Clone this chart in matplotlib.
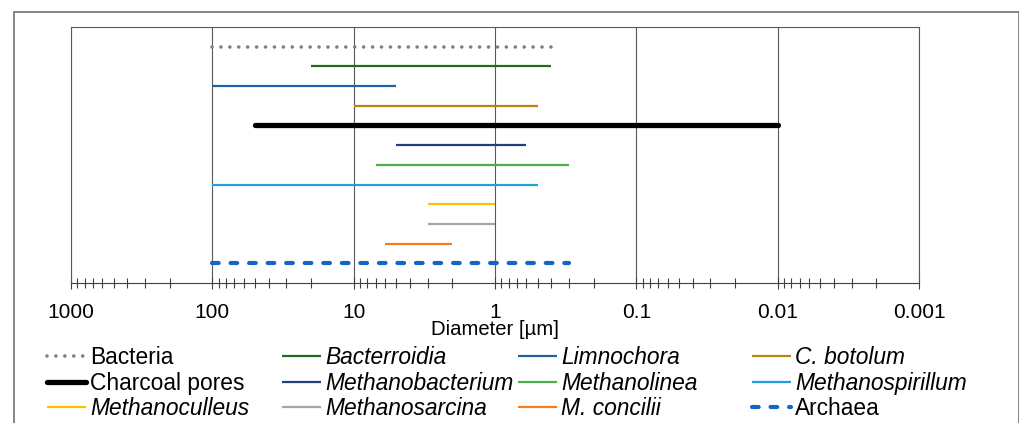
import matplotlib
matplotlib.use("Agg")
import matplotlib.pyplot as plt
from matplotlib.ticker import FixedLocator, LogLocator, NullFormatter
from matplotlib.patches import Rectangle

plt.rcParams['font.family'] = ['Liberation Sans', 'DejaVu Sans']

# ---- data ----
names = ["Bacteria", "Bacterroidia", "Limnochora", "C. botolum", "Charcoal pores",
         "Methanobacterium", "Methanolinea", "Methanospirillum", "Methanoculleus",
         "Methanosarcina", "M. concilii", "Archaea"]
start_um = [100, 20, 100, 10, 50, 5, 7, 100, 3, 3, 6, 100]
end_um = [0.4, 0.4, 5, 0.5, 0.01, 0.6, 0.3, 0.5, 1, 1, 2, 0.3]
italic = [False, True, True, True, False, True, True, True, True, True, True, False]
tick_values = [1000, 100, 10, 1, 0.1, 0.01, 0.001]
tick_labels = ["1000", "100", "10", "1", "0.1", "0.01", "0.001"]

colors = ["#7F7F7F", "#1F6B22", "#1F63A3", "#B8860B", "#000000", "#203F80",
          "#4CB04A", "#21A0E0", "#FFC000", "#A5A5A5", "#F57C20", "#1565C8"]

W, H = 1020, 423
fig = plt.figure(figsize=(W / 100, H / 100), dpi=100)
ax = fig.add_axes([71 / W, 1 - 283 / H, (919 - 71) / W, (283 - 27) / H])

handles = []
for i, (n, s, e, c) in enumerate(zip(names, start_um, end_um, colors)):
    kw = dict(color=c, lw=1.6, solid_capstyle='butt')
    if n == "Bacteria":
        kw = dict(color=c, lw=2.6, linestyle=(0, (0.01, 2.46)), dash_capstyle='round')
    elif n == "Charcoal pores":
        kw = dict(color=c, lw=3.8, solid_capstyle='round')
    elif n == "Archaea":
        kw = dict(color=c, lw=3.0, linestyle=(0, (1.6, 2.85)), dash_capstyle='round')
    ln, = ax.plot([s, e], [i, i], **kw)
    handles.append(ln)

ax.set_xscale('log')
ax.set_xlim(1000, 0.001)
ax.set_ylim(12, -1)
ax.xaxis.set_major_locator(FixedLocator(tick_values))
ax.set_xticklabels(tick_labels)
ax.xaxis.set_minor_locator(LogLocator(base=10, subs=[2, 3, 4, 5, 6, 7, 8, 9]))
ax.xaxis.set_minor_formatter(NullFormatter())
ax.tick_params(axis='x', which='major', direction='inout', length=9, width=0.8,
               color='#404040', labelsize=15, pad=10)
ax.tick_params(axis='x', which='minor', direction='inout', length=6.5, width=0.8,
               color='#404040')
ax.tick_params(axis='y', left=False, labelleft=False)
ax.grid(axis='x', which='major', color='#595959', lw=0.8)
ax.set_axisbelow(True)
for sp in ax.spines.values():
    sp.set_color('#595959')
    sp.set_linewidth(0.8)
ax.spines['bottom'].set_color('#404040')
ax.set_xlabel("Diameter [µm]", fontsize=14.6, labelpad=-1.5)

# legend: 4 columns, row-wise order
col_x = [47, 282, 518, 752]
for col in range(4):
    idx = [col, col + 4, col + 8]
    leg = fig.legend([handles[k] for k in idx], [names[k] for k in idx],
                     loc='upper left', bbox_to_anchor=(col_x[col] / W, 1 - 346 / H),
                     frameon=False, fontsize=16.4, handlelength=1.7, handletextpad=0.2,
                     labelspacing=0.12, borderpad=0, borderaxespad=0)
    for t, k in zip(leg.get_texts(), idx):
        if italic[k]:
            t.set_fontstyle('italic')

fig.add_artist(Rectangle((14 / W, -0.1), (1019 - 14) / W, (1 - 12 / H) + 0.1,
                         transform=fig.transFigure, fill=False, ec='#6F6F6F', lw=1.2))

fig.savefig("out.png", dpi=100)
